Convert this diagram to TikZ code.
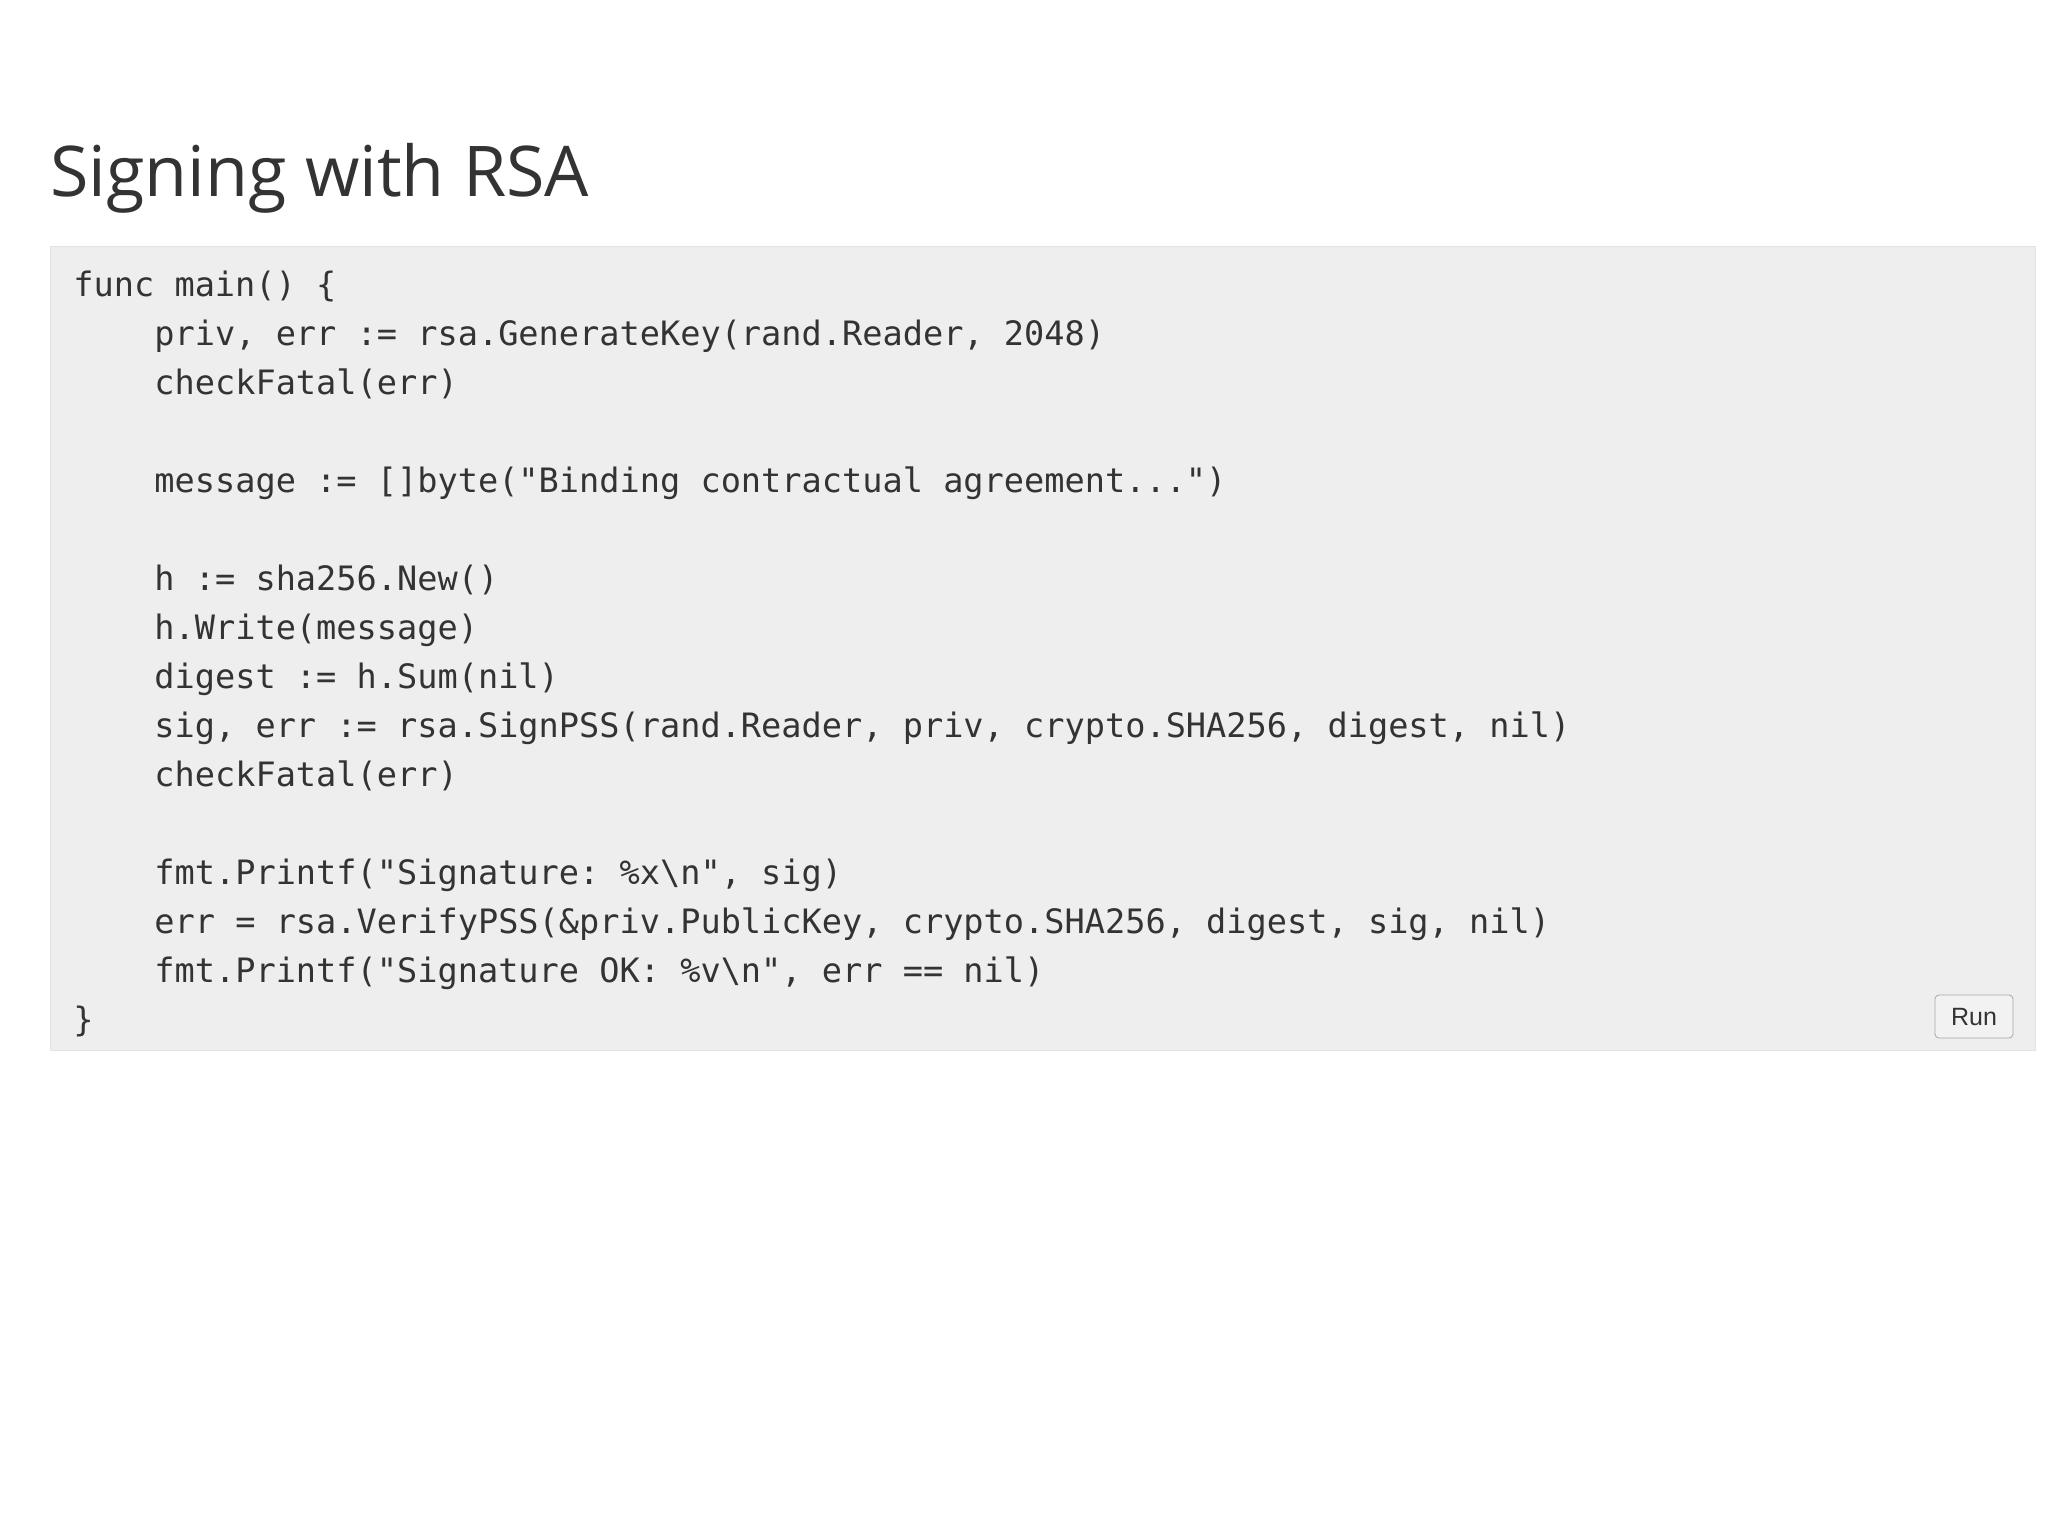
\documentclass[tikz,border=0pt]{standalone}
\usepackage{fontspec}
\setmainfont{Open Sans}
\setmonofont{DejaVu Sans Mono}
\newfontfamily\runfont{Liberation Sans}
\definecolor{txt}{HTML}{333333}
\definecolor{codebg}{HTML}{EEEEEE}
\definecolor{codeborder}{HTML}{E2E2E2}
\tikzset{codeline/.style={anchor=base west,inner sep=0pt,text=txt,font=\fontsize{16.8pt}{18pt}\ttfamily}}
\begin{document}
\begin{tikzpicture}[x=0.5pt,y=-0.5pt]
\useasboundingbox (0,0) rectangle (2048,1536);
\fill[white] (0,0) rectangle (2048,1536);
\node[anchor=base west,inner sep=0pt,text=txt,font=\fontsize{35pt}{40pt}\selectfont] (title) at (50,196) {Signing with RSA};
\draw[codeborder,fill=codebg] (50,246) rectangle (2035,1050);
\node[codeline] (l0) at (73,296) {func main() \{};
\node[codeline] (l1) at (154,345) {priv, err := rsa.GenerateKey(rand.Reader, 2048)};
\node[codeline] (l2) at (154,394) {checkFatal(err)};
\node[codeline] (l4) at (154,492) {message := []byte("Binding contractual agreement...")};
\node[codeline] (l6) at (154,590) {h := sha256.New()};
\node[codeline] (l7) at (154,639) {h.Write(message)};
\node[codeline] (l8) at (154,688) {digest := h.Sum(nil)};
\node[codeline] (l9) at (154,737) {sig, err := rsa.SignPSS(rand.Reader, priv, crypto.SHA256, digest, nil)};
\node[codeline] (l10) at (154,786) {checkFatal(err)};
\node[codeline] (l12) at (154,884) {fmt.Printf("Signature: \%x\textbackslash n", sig)};
\node[codeline] (l13) at (154,933) {err = rsa.VerifyPSS(\&priv.PublicKey, crypto.SHA256, digest, sig, nil)};
\node[codeline] (l14) at (154,982) {fmt.Printf("Signature OK: \%v\textbackslash n", err == nil)};
\node[codeline] (l15) at (73,1031) {\}};
\draw[draw=gray!70,fill=black!5,rounded corners=2pt] (1935,995) rectangle (2013,1038);
\node[inner sep=0pt,text=txt,font=\fontsize{12.5pt}{14pt}\runfont] (run) at (1974,1017) {Run};
\end{tikzpicture}
\end{document}
